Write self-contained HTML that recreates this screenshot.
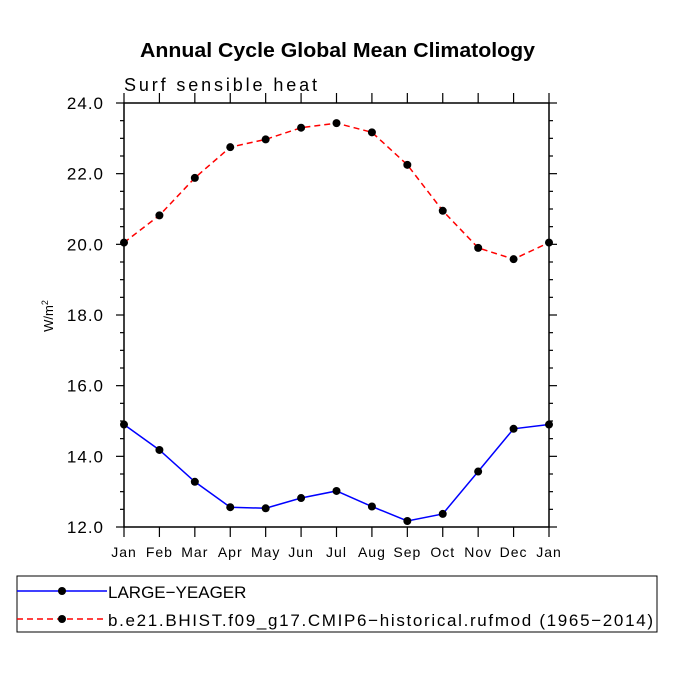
<!DOCTYPE html>
<html><head><meta charset="utf-8"><style>
body{margin:0;background:#fff}
svg{display:block;font-family:"Liberation Sans",sans-serif}
</style></head><body>
<svg id="c" width="675" height="675" viewBox="0 0 675 675">
<text x="140" y="57" textLength="395" lengthAdjust="spacingAndGlyphs" font-size="20" font-weight="bold">Annual Cycle Global Mean Climatology</text>
<text x="124" y="91" textLength="193" lengthAdjust="spacing" font-size="18">Surf sensible heat</text>
<text transform="translate(53,316) rotate(-90)" text-anchor="middle" font-size="13">W/m<tspan dy="-5" font-size="9">2</tspan></text>
<g id="axes"></g><g id="marks"></g>
<rect x="17" y="576" width="640" height="56" fill="none" stroke="#000"/>
<g>
<line x1="17" y1="591" x2="107" y2="591" stroke="#00f" stroke-width="1.5"/><circle cx="62" cy="591" r="4"/>
<text x="108" y="598" font-size="17">LARGE−YEAGER</text></g>
<g>
<line x1="17" y1="619" x2="107" y2="619" stroke="#f00" stroke-width="1.5" stroke-dasharray="6,4"/><circle cx="62" cy="619" r="4"/>
<text x="108" y="626" font-size="17" textLength="545" lengthAdjust="spacing">b.e21.BHIST.f09_g17.CMIP6−historical.rufmod (1965−2014)</text></g>
</svg>
<script>
const months=["Jan","Feb","Mar","Apr","May","Jun","Jul","Aug","Sep","Oct","Nov","Dec","Jan"];
const largeYeager=[14.9,14.18,13.28,12.56,12.53,12.82,13.02,12.58,12.17,12.37,13.57,14.78,14.9];
const rufmod=[20.05,20.82,21.88,22.75,22.97,23.3,23.43,23.17,22.25,20.95,19.9,19.58,20.05];
const yTicks=["12.0","14.0","16.0","18.0","20.0","22.0","24.0"];
const NS="http://www.w3.org/2000/svg";
const L=124,R=549,T=103,B=527,ymin=12,ymax=24;
const xs=i=>L+(R-L)*i/(months.length-1);
const ys=v=>B-(v-ymin)/(ymax-ymin)*(B-T);
function mk(p,t,a){const e=document.createElementNS(NS,t);for(const k in a)e.setAttribute(k,a[k]);p.appendChild(e);return e;}
const ax=document.getElementById('axes'),mg=document.getElementById('marks');
const fr=mk(ax,'rect',{x:L,y:T,width:R-L,height:B-T,fill:'none',stroke:'#000','stroke-width':1.5});


for(let v=ymin;v<=ymax+1e-9;v+=0.5){const y=ys(v),maj=Math.abs(v%2)<1e-9,len=maj?8:4;
mk(ax,'line',{x1:L-len,y1:y,x2:L,y2:y,stroke:'#000','stroke-width':1.2});
mk(ax,'line',{x1:R,y1:y,x2:R+len,y2:y,stroke:'#000','stroke-width':1.2});}
yTicks.forEach(s=>{const t=mk(ax,'text',{x:L-20,y:ys(+s)+6,'text-anchor':'end','font-size':17,'letter-spacing':1});t.textContent=s;

});
months.forEach((m,i)=>{const x=xs(i);
mk(ax,'line',{x1:x,y1:B,x2:x,y2:B+10,stroke:'#000','stroke-width':1.2});
mk(ax,'line',{x1:x,y1:T-10,x2:x,y2:T,stroke:'#000','stroke-width':1.2});
const t=mk(ax,'text',{x:x,y:B+30,'text-anchor':'middle','font-size':14,'letter-spacing':1});t.textContent=m;

});
function series(vals,color,dash,name){
const g=mk(mg,'g',{});


const a={points:vals.map((v,i)=>xs(i)+','+ys(v)).join(' '),fill:'none',stroke:color,'stroke-width':1.5};
if(dash)a['stroke-dasharray']=dash;mk(g,'polyline',a);
vals.forEach((v,i)=>{const c=mk(g,'circle',{cx:xs(i),cy:ys(v),r:4});

});}
series(largeYeager,'#00f',null,'series-large-yeager');
series(rufmod,'#f00','6,4','series-rufmod');
</script>
</body></html>
